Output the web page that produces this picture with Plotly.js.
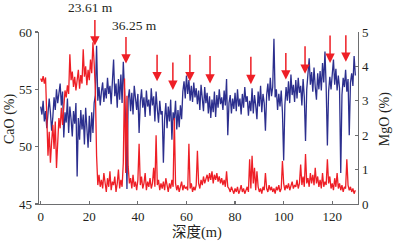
<!DOCTYPE html>
<html><head><meta charset="utf-8">
<script src="https://cdn.plot.ly/plotly-3.0.1.min.js"></script>
<style>html,body{margin:0;padding:0;background:#fff;}#chart{width:393px;height:244px;}</style>
</head><body><div id="chart"></div>
<script>
const depth = [0,0.5,1,1.5,2,2.5,3,3.5,4,4.5,5,5.5,6,6.5,7,7.5,8,8.5,9,9.5,10,10.5,11,11.5,12,12.5,13,13.5,14,14.5,15,15.5,16,16.5,17,17.5,18,18.5,19,19.5,20,20.5,21,21.5,22,22.5,23,23.5,24,24.5,25,25.5,26,26.5,27,27.5,28,28.5,29,29.5,30,30.5,31,31.5,32,32.5,33,33.5,34,34.5,35,35.5,36,36.5,37,37.5,38,38.5,39,39.5,40,40.5,41,41.5,42,42.5,43,43.5,44,44.5,45,45.5,46,46.5,47,47.5,48,48.5,49,49.5,50,50.5,51,51.5,52,52.5,53,53.5,54,54.5,55,55.5,56,56.5,57,57.5,58,58.5,59,59.5,60,60.5,61,61.5,62,62.5,63,63.5,64,64.5,65,65.5,66,66.5,67,67.5,68,68.5,69,69.5,70,70.5,71,71.5,72,72.5,73,73.5,74,74.5,75,75.5,76,76.5,77,77.5,78,78.5,79,79.5,80,80.5,81,81.5,82,82.5,83,83.5,84,84.5,85,85.5,86,86.5,87,87.5,88,88.5,89,89.5,90,90.5,91,91.5,92,92.5,93,93.5,94,94.5,95,95.5,96,96.5,97,97.5,98,98.5,99,99.5,100,100.5,101,101.5,102,102.5,103,103.5,104,104.5,105,105.5,106,106.5,107,107.5,108,108.5,109,109.5,110,110.5,111,111.5,112,112.5,113,113.5,114,114.5,115,115.5,116,116.5,117,117.5,118,118.5,119,119.5,120,120.5,121,121.5,122,122.5,123,123.5,124,124.5,125,125.5,126,126.5,127,127.5,128,128.5,129,129.5];

const cao = [
53.5,52.8,54.0,52.2,53.1,51.6,52.9,54.2,53.0,51.4,
52.6,54.3,53.2,55.0,53.8,54.6,55.5,53.6,54.8,50.8,
53.0,52.1,54.2,51.2,53.5,52.4,50.9,53.1,52.0,53.8,
47.4,52.5,50.6,53.2,51.5,52.8,50.2,53.4,51.8,49.9,
52.7,50.4,53.0,51.2,53.8,54.5,58.8,54.0,55.2,53.6,
54.8,55.6,53.9,55.1,54.2,56.0,54.6,55.3,53.7,55.8,
57.6,54.4,55.5,53.4,55.9,54.1,56.3,53.8,57.4,54.9,
52.0,46.3,54.2,55.0,53.1,54.7,52.8,55.3,54.0,53.2,
54.6,51.2,53.9,55.0,53.4,54.3,52.6,54.9,53.5,54.1,
52.7,55.1,53.6,54.4,52.2,54.8,53.3,52.1,54.0,52.8,
53.1,48.6,52.4,53.8,51.6,53.5,52.2,54.1,50.6,53.0,
52.3,54.0,51.5,53.2,51.7,53.6,52.4,54.8,55.7,54.2,
56.2,54.6,55.8,54.0,55.3,53.9,55.6,54.3,55.1,53.7,
54.9,53.2,55.4,54.0,53.1,55.2,53.8,54.7,52.9,54.4,
52.5,54.1,53.0,54.8,52.6,54.5,53.4,55.0,53.7,54.3,
53.2,54.9,53.6,55.9,51.0,53.8,54.5,52.9,54.2,53.3,
54.7,53.1,55.0,53.5,54.2,52.8,54.6,53.4,55.2,53.9,
54.4,52.7,54.0,53.1,55.1,52.9,54.5,53.6,52.4,54.8,
53.5,55.3,53.0,54.6,53.8,51.4,54.5,55.5,54.0,56.0,
54.4,55.2,59.4,54.3,55.0,53.2,54.6,53.5,54.9,53.0,
48.8,53.6,55.2,54.0,55.7,53.8,56.3,54.5,55.4,53.9,
55.8,54.2,56.0,54.7,55.3,53.6,55.9,54.3,50.5,55.0,
56.2,57.7,55.4,56.5,54.8,56.9,55.2,54.1,56.4,55.0,
56.6,54.9,57.3,55.6,58.3,55.2,50.1,54.8,56.1,55.0,
56.3,57.6,55.4,56.8,54.9,56.2,55.1,47.7,54.5,56.0,
55.2,56.7,54.8,55.9,51.0,55.6,56.4,55.3,57.9,56.2];

const mgo = [
3.65,3.55,3.72,3.50,3.68,2.2,1.4,2.1,1.2,1.8,
2.3,1.6,2.4,1.05,2.0,2.5,2.2,2.8,2.3,2.7,
3.3,3.1,3.45,3.2,4.35,3.6,3.85,3.4,3.7,3.3,
3.6,3.9,3.35,3.75,3.5,4.5,3.7,4.0,3.45,3.9,
3.6,4.2,3.8,4.7,4.1,3.3,1.4,0.55,0.85,0.5,
0.7,0.45,0.9,0.55,0.35,0.75,0.5,0.95,0.4,0.65,
0.55,0.8,0.35,0.6,1.0,0.45,0.7,0.5,1.2,3.65,
0.9,3.15,1.1,0.6,0.75,0.45,0.85,0.5,0.65,0.4,
0.7,1.75,0.55,0.8,0.45,0.6,0.9,0.4,0.65,0.5,
0.75,0.45,0.6,1.05,0.5,2.0,0.55,0.7,0.4,0.6,
0.45,0.65,0.4,0.75,0.5,0.35,0.6,0.45,0.7,0.5,
2.5,0.6,0.4,0.55,0.35,0.5,0.65,0.4,0.55,0.45,
0.5,0.4,1.75,0.45,0.6,0.35,0.5,0.4,0.55,1.55,
0.6,0.45,0.7,0.55,0.8,0.6,0.75,0.85,0.65,0.9,
0.7,0.95,0.6,0.85,0.7,0.9,0.65,0.8,0.6,0.75,
0.55,0.7,0.5,0.95,0.5,0.45,0.35,0.5,0.4,0.3,
0.45,0.35,0.5,0.3,0.4,0.55,0.35,0.45,0.3,0.4,
0.5,0.35,1.3,0.45,1.4,0.6,1.05,0.4,0.95,0.5,
0.35,0.45,0.3,0.5,0.4,0.9,0.45,0.35,0.55,0.4,
0.5,0.35,0.45,0.3,0.5,0.4,0.55,0.35,0.45,1.25,
0.6,0.4,0.55,0.45,0.6,0.4,0.5,0.65,0.45,0.55,
0.5,0.7,0.45,0.6,1.15,0.55,0.8,0.5,1.45,0.6,
0.75,0.5,0.9,0.6,0.85,0.55,1.05,0.6,0.8,0.5,
0.7,0.45,0.9,0.5,0.65,0.55,1.3,0.6,0.8,0.45,
0.6,0.4,0.75,0.5,0.9,0.45,0.6,0.4,0.55,0.35,
0.5,0.45,1.3,0.55,0.4,0.5,0.35,0.45,0.3,0.4];

const xTicks = [0,20,40,60,80,100,120];
const caoTicks = [45,50,55,60];
const mgoTicks = [0,1,2,3,4,5];

// marker arrows: depth, tip (CaO scale), tail offset px
const arrowDepth = [22.3,35.1,47.9,54.4,61.4,69.7,86.5,100.9,108.8,119.1,125.6];
const arrowTip   = [58.82,57.25,55.7,54.95,55.7,55.5,55.45,55.85,56.35,57.3,57.4];
const arrowLen   = [27,28,28,29,28,29,29,28,29,29,28];
const labelText  = ['23.61 m','36.25 m'];
const labelDepth = [20.3,38.4];
const labelPaperY = [1.14,1.035];

const serif = '"Liberation Serif","Times New Roman","Noto Sans CJK SC",serif';
const red = '#ee1f26', blue = '#2c2f8e', txt = '#231f20';

const traces = [
  {x: depth, y: cao, type:'scatter', mode:'lines', line:{color:blue, width:1.3}, yaxis:'y', hoverinfo:'skip'},
  {x: depth, y: mgo, type:'scatter', mode:'lines', line:{color:red, width:1.3}, yaxis:'y2', hoverinfo:'skip'}
];

const annotations = [];
for (let i=0;i<arrowDepth.length;i++){
  annotations.push({x:arrowDepth[i], y:arrowTip[i], xref:'x', yref:'y', text:'', showarrow:true,
    arrowhead:2, arrowsize:1.25, arrowwidth:1.5, arrowcolor:red, ax:0, ay:-arrowLen[i], standoff:0});
}
for (let i=0;i<labelText.length;i++){
  annotations.push({x:labelDepth[i], y:labelPaperY[i], xref:'x', yref:'paper', text:labelText[i], showarrow:false,
    font:{family:serif, size:13.5, color:txt}, xanchor:'center', yanchor:'middle'});
}
// axis titles
annotations.push({x:0.495, y:-0.163, xref:'paper', yref:'paper', text:'深度(m)', showarrow:false,
  font:{family:serif, size:14.5, color:txt}, xanchor:'center', yanchor:'middle'});
annotations.push({x:-0.091, y:0.494, xref:'paper', yref:'paper', text:'CaO (%)', showarrow:false, textangle:-90,
  font:{family:serif, size:14, color:txt}, xanchor:'center', yanchor:'middle'});
annotations.push({x:1.085, y:0.494, xref:'paper', yref:'paper', text:'MgO (%)', showarrow:false, textangle:-90,
  font:{family:serif, size:14, color:txt}, xanchor:'center', yanchor:'middle'});

const axisCommon = {showgrid:false, zeroline:false, showline:true, linecolor:'#6d6e70', linewidth:1.3,
  ticks:'outside', ticklen:3, tickwidth:1.2, tickcolor:'#6d6e70',
  tickfont:{family:serif, size:13, color:txt}, automargin:false};

const layout = {
  width:393, height:244, margin:{l:39, r:35, t:32, b:40},
  paper_bgcolor:'#fff', plot_bgcolor:'#fff', showlegend:false,
  xaxis: Object.assign({}, axisCommon, {range:[-0.7,130.6], tickvals:xTicks, ticks:'inside'}),
  yaxis: Object.assign({}, axisCommon, {range:[45,60], tickvals:caoTicks}),
  yaxis2: Object.assign({}, axisCommon, {range:[0,5], tickvals:mgoTicks, overlaying:'y', side:'right', ticks:'inside'}),
  annotations: annotations
};

Plotly.newPlot('chart', traces, layout, {staticPlot:true, displayModeBar:false});
</script></body></html>
